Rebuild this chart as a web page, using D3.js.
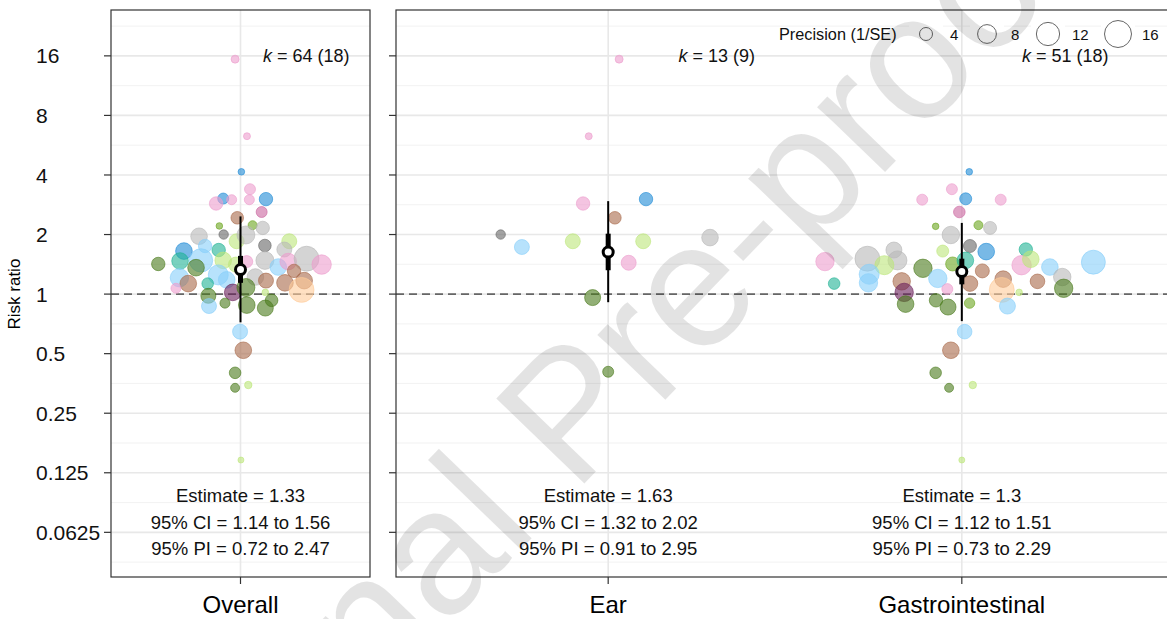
<!DOCTYPE html>
<html>
<head>
<meta charset="utf-8">
<script src="https://cdn.jsdelivr.net/npm/d3@7"></script>
<style>
  body { margin: 0; background: #fff; }
  text { font-family: "Liberation Sans", Arial, Helvetica, sans-serif; }
</style>
</head>
<body>
<div id="orchard"></div>
<script>
// y axis
const yTicks = [0.0625, 0.125, 0.25, 0.5, 1, 2, 4, 8, 16];
const yTickLabels = ["0.0625", "0.125", "0.25", "0.5", "1", "2", "4", "8", "16"];

// summary per group
const groups = ["Overall", "Ear", "Gastrointestinal"];
const estimates = [1.33, 1.63, 1.3];
const ciLow = [1.14, 1.32, 1.12];
const ciHigh = [1.56, 2.02, 1.51];
const piLow = [0.72, 0.91, 0.73];
const piHigh = [2.47, 2.95, 2.29];
const kEffects = [64, 13, 51];
const kStudies = [18, 9, 18];
const legendPrecision = [4, 8, 12, 16];

// effect sizes, Overall
const overallRR = [3.39, 3.04, 3.0, 2.87, 3.0, 3.02, 2.6, 2.43, 2.21, 2.23, 2.16, 1.96, 2.0, 1.85, 1.99, 1.76, 1.85, 1.75, 1.65, 1.67, 1.68, 1.48, 1.48, 1.42, 1.47, 1.36, 1.41, 1.46, 1.48, 1.37, 1.46, 1.51, 1.41, 1.31, 1.21, 1.13, 1.07, 1.25, 1.18, 1.13, 1.22, 1.17, 1.14, 1.17, 1.05, 1.02, 1.08, 1.02, 0.98, 0.87, 0.9, 0.88, 0.93, 0.85, 0.646, 0.52, 0.4, 0.336, 0.347, 15.4, 6.28, 4.15, 0.145];
const overallPrec = [2.94, 2.94, 2.49, 4.24, 2.49, 4.24, 2.94, 3.77, 1.18, 2.04, 4.24, 6.35, 2.22, 5.22, 7.35, 3.77, 5.22, 4.24, 6.35, 4.24, 5.22, 12.1, 6.35, 4.24, 6.35, 6.35, 5.22, 3.45, 7.35, 6.35, 6.35, 13.7, 8.5, 4.24, 7.67, 6.35, 2.49, 9.0, 6.35, 3.24, 6.35, 5.22, 6.35, 6.35, 13.7, 6.35, 7.35, 1.18, 5.22, 5.22, 2.49, 6.35, 3.77, 5.9, 5.22, 6.35, 3.24, 2.04, 1.45, 1.65, 1.3, 1.18, 1.0];
const overallStudy = [0, 1, 0, 0, 0, 1, 12, 7, 6, 6, 8, 8, 9, 5, 8, 9, 5, 2, 1, 3, 8, 2, 5, 4, 3, 4, 5, 0, 8, 2, 0, 8, 0, 7, 2, 7, 0, 2, 2, 3, 8, 7, 7, 7, 11, 10, 4, 5, 4, 2, 4, 4, 4, 4, 2, 7, 4, 4, 5, 0, 0, 1, 5];
const overallJitter = [0.044, -0.080, -0.041, -0.113, 0.041, 0.118, 0.098, -0.015, -0.098, 0.056, 0.103, -0.192, -0.078, -0.018, 0.025, 0.113, 0.226, -0.164, -0.262, -0.101, 0.203, -0.183, -0.080, -0.381, -0.280, -0.206, -0.021, 0.029, 0.113, 0.175, 0.221, 0.306, 0.376, 0.248, -0.283, -0.242, -0.299, -0.103, -0.064, -0.152, 0.069, 0.118, 0.206, 0.295, 0.283, -0.036, 0.025, 0.115, -0.149, -0.146, -0.072, 0.029, 0.144, 0.115, -0.002, 0.013, -0.025, -0.025, 0.036, -0.025, 0.030, 0.004, 0.002];

// Ear
const earRR = [15.4, 6.28, 2.87, 3.02, 2.43, 2.0, 1.73, 1.85, 1.85, 1.93, 1.44, 0.96, 0.405];
const earPrec = [1.65, 1.3, 4.24, 4.24, 3.77, 2.22, 5.22, 5.22, 5.22, 6.35, 5.22, 5.9, 2.94];
const earStudy = [0, 0, 0, 1, 7, 9, 2, 5, 5, 8, 0, 4, 4];
const earJitter = [0.031, -0.055, -0.071, 0.107, 0.019, -0.304, -0.244, -0.100, 0.099, 0.288, 0.058, -0.044, 0.0];

// Gastrointestinal
const giRR = [4.15, 3.39, 3.0, 3.03, 3.0, 2.6, 2.2, 2.23, 2.16, 1.99, 1.75, 1.64, 1.65, 1.68, 1.67, 1.48, 1.51, 1.46, 1.4, 1.35, 1.42, 1.48, 1.40, 1.5, 1.37, 1.45, 1.22, 1.26, 1.14, 1.13, 1.16, 1.2, 1.31, 1.13, 1.19, 1.16, 1.02, 1.06, 1.05, 1.02, 1.07, 0.89, 0.93, 0.86, 0.9, 0.87, 0.646, 0.52, 0.40, 0.336, 0.347, 0.145];
const giPrec = [1.18, 2.94, 2.94, 3.45, 2.94, 3.24, 1.18, 2.04, 4.0, 6.97, 4.0, 6.35, 3.45, 4.24, 5.9, 8.17, 13.7, 7.67, 8.17, 7.67, 4.6, 6.35, 8.5, 6.35, 6.35, 12.7, 6.97, 9.0, 7.67, 3.24, 6.97, 7.67, 4.6, 5.64, 6.35, 4.97, 7.67, 2.94, 13.7, 1.18, 7.67, 6.35, 4.24, 5.9, 2.65, 5.9, 4.97, 6.35, 3.24, 2.04, 1.45, 1.0];
const giStudy = [1, 0, 0, 1, 0, 12, 6, 6, 8, 8, 9, 1, 5, 3, 8, 8, 8, 0, 5, 4, 6, 3, 0, 5, 2, 2, 8, 2, 2, 3, 7, 2, 7, 7, 7, 7, 10, 0, 11, 5, 4, 4, 4, 4, 6, 2, 2, 7, 4, 4, 5, 5];
const giJitter = [0.021, -0.028, -0.112, 0.011, 0.110, -0.007, -0.074, 0.047, 0.080, -0.031, 0.023, 0.069, -0.054, 0.181, -0.192, -0.182, -0.267, -0.387, -0.219, -0.110, -0.026, 0.010, 0.169, 0.195, 0.249, 0.372, 0.284, -0.262, -0.264, -0.361, -0.170, -0.068, 0.058, 0.023, 0.117, 0.214, -0.163, -0.041, 0.113, 0.162, 0.288, -0.159, -0.073, -0.039, 0.022, 0.129, 0.008, -0.031, -0.074, -0.036, 0.031, 0.0];

const studyColours = ["#ec9ccd", "#1e8ad6", "#87cefa", "#1fb394", "#4a7a1a", "#bde67a",
  "#6aa51e", "#a8694a", "#b8b8b8", "#666666", "#6b1f5a", "#ffcc99", "#c9649f"];

const width = 1167;
const height = 619;
const plotTop = 10;
const plotBottom = 577;

const svg = d3.select("#orchard").append("svg")
  .attr("width", width).attr("height", height);

const y = d3.scaleLog().base(2)
  .domain([Math.pow(2, -4.75), Math.pow(2, 4.77)])
  .range([plotBottom, plotTop]);
const r = d3.scalePow().exponent(0.5).domain([1, 16]).range([3, 13.5]);
const colour = d3.scaleOrdinal().domain(d3.range(studyColours.length)).range(studyColours);

const toRows = (rr, prec, study, jit, pos) =>
  rr.map((v, i) => ({ rr: v, prec: prec[i], study: study[i], x: pos + jit[i] }));

const panels = [
  { x0: 111, x1: 370, domain: [0.4, 1.6], cats: [0], kOff: 0.505,
    rows: toRows(overallRR, overallPrec, overallStudy, overallJitter, 1) },
  { x0: 396, x1: 1174, domain: [0.4, 2.6], cats: [1, 2], kOff: 0.415,
    rows: toRows(earRR, earPrec, earStudy, earJitter, 1)
      .concat(toRows(giRR, giPrec, giStudy, giJitter, 2)) }
];

// minor gridlines at half powers of 2
const minor = d3.range(-4.5, 5, 1).map((e) => Math.pow(2, e));

panels.forEach((p) => {
  const x = d3.scaleLinear().domain(p.domain).range([p.x0, p.x1]);
  const g = svg.append("g");

  g.append("rect").attr("x", p.x0).attr("y", plotTop)
    .attr("width", p.x1 - p.x0).attr("height", plotBottom - plotTop).attr("fill", "#fff");

  g.selectAll(".minor").data(minor).enter().append("line")
    .attr("x1", p.x0).attr("x2", p.x1)
    .attr("y1", (d) => y(d)).attr("y2", (d) => y(d))
    .attr("stroke", "#efefef").attr("stroke-width", 0.8);
  g.selectAll(".major").data(yTicks).enter().append("line")
    .attr("x1", p.x0).attr("x2", p.x1)
    .attr("y1", (d) => y(d)).attr("y2", (d) => y(d))
    .attr("stroke", "#e8e8e8").attr("stroke-width", 1.6);
  g.selectAll(".vgrid").data(p.cats).enter().append("line")
    .attr("x1", (d, i) => x(i + 1)).attr("x2", (d, i) => x(i + 1))
    .attr("y1", plotTop).attr("y2", plotBottom)
    .attr("stroke", "#e8e8e8").attr("stroke-width", 1.6);

  // null line
  g.append("line").attr("x1", p.x0).attr("x2", p.x1)
    .attr("y1", y(1)).attr("y2", y(1))
    .attr("stroke", "#666").attr("stroke-width", 1.6)
    .attr("stroke-dasharray", "8,5");

  // effect sizes
  g.selectAll("circle.pt").data(p.rows).enter().append("circle")
    .attr("class", "pt")
    .attr("cx", (d) => x(d.x)).attr("cy", (d) => y(d.rr))
    .attr("r", (d) => r(d.prec))
    .attr("fill", (d) => colour(d.study)).attr("fill-opacity", 0.6)
    .attr("stroke", (d) => colour(d.study)).attr("stroke-opacity", 0.6)
    .attr("stroke-width", 1);

  // summary: PI, CI, estimate
  p.cats.forEach((c, i) => {
    const cx = x(i + 1);
    g.append("line").attr("x1", cx).attr("x2", cx)
      .attr("y1", y(piLow[c])).attr("y2", y(piHigh[c]))
      .attr("stroke", "#000").attr("stroke-width", 2);
    g.append("line").attr("x1", cx).attr("x2", cx)
      .attr("y1", y(ciLow[c])).attr("y2", y(ciHigh[c]))
      .attr("stroke", "#000").attr("stroke-width", 5);
    g.append("circle").attr("cx", cx).attr("cy", y(estimates[c])).attr("r", 5)
      .attr("fill", "#fff").attr("stroke", "#000").attr("stroke-width", 3);

    const k = g.append("text").attr("x", x(i + 1 + p.kOff)).attr("y", 62)
      .attr("text-anchor", "end").attr("font-size", 18).attr("fill", "#111");
    k.append("tspan").attr("font-style", "italic").text("k");
    k.append("tspan").text(" = " + kEffects[c] + " (" + kStudies[c] + ")");

    const lines = ["Estimate = " + estimates[c],
      "95% CI = " + ciLow[c] + " to " + ciHigh[c],
      "95% PI = " + piLow[c] + " to " + piHigh[c]];
    g.selectAll(".est" + c).data(lines).enter().append("text")
      .attr("x", cx).attr("y", (d, j) => 502 + j * 26.5)
      .attr("text-anchor", "middle").attr("font-size", 18.5).attr("fill", "#111")
      .text((d) => d);

    // x tick and label
    g.append("line").attr("x1", cx).attr("x2", cx)
      .attr("y1", plotBottom).attr("y2", plotBottom + 7)
      .attr("stroke", "#333").attr("stroke-width", 1.2);
    g.append("text").attr("x", cx).attr("y", 613)
      .attr("text-anchor", "middle").attr("font-size", 24).attr("fill", "#000")
      .text(groups[c]);
  });

  // y ticks
  g.selectAll(".ytick").data(yTicks).enter().append("line")
    .attr("x1", p.x0 - 7).attr("x2", p.x0)
    .attr("y1", (d) => y(d)).attr("y2", (d) => y(d))
    .attr("stroke", "#333").attr("stroke-width", 1.2);

  g.append("rect").attr("x", p.x0).attr("y", plotTop)
    .attr("width", p.x1 - p.x0).attr("height", plotBottom - plotTop)
    .attr("fill", "none").attr("stroke", "#333").attr("stroke-width", 1.2);
});

// y tick labels, left panel only
svg.selectAll(".ylab").data(yTicks).enter().append("text")
  .attr("x", 36).attr("y", (d) => y(d)).attr("dy", "0.36em")
  .attr("font-size", 21).attr("fill", "#111")
  .text((d, i) => yTickLabels[i]);

svg.append("text")
  .attr("transform", "translate(20," + y(1) + ") rotate(-90)")
  .attr("text-anchor", "middle").attr("font-size", 17).attr("fill", "#000")
  .text("Risk ratio");

// legend
const legend = svg.append("g");
const keyX = [926, 987, 1048, 1118];
legend.append("text").attr("x", 779).attr("y", 40)
  .attr("font-size", 16.3).attr("fill", "#111").text("Precision (1/SE)");
legendPrecision.forEach((v, i) => {
  legend.append("rect").attr("x", keyX[i] - 17).attr("y", 15)
    .attr("width", 34).attr("height", 33).attr("fill", "#fff");
  legend.append("circle").attr("cx", keyX[i]).attr("cy", 34).attr("r", r(v))
    .attr("fill", "#fff").attr("stroke", "#666").attr("stroke-width", 1);
  legend.append("text").attr("x", keyX[i] + 24).attr("y", 40)
    .attr("font-size", 15).attr("fill", "#111").text(v);
});

// watermark
svg.append("text")
  .attr("transform", "translate(612,455) rotate(-46)")
  .attr("text-anchor", "middle").attr("font-size", 178)
  .attr("fill", "#000").attr("fill-opacity", 0.11)
  .text("Journal Pre-proof");
</script>
</body>
</html>
